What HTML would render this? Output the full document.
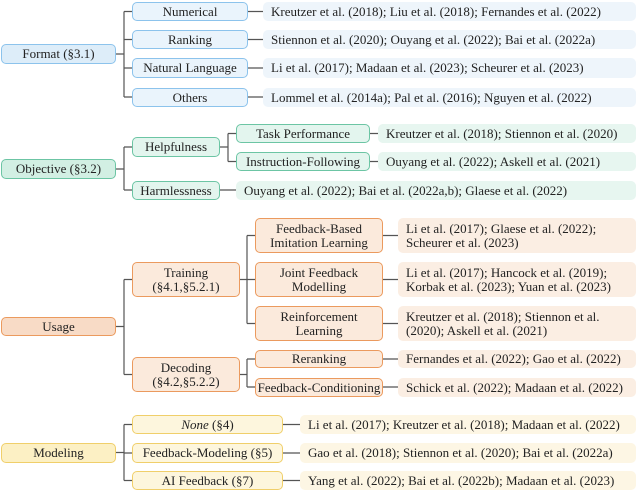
<!DOCTYPE html>
<html><head><meta charset="utf-8"><style>
body{margin:0;width:640px;height:492px;position:relative;background:#fff;font-family:"Liberation Serif","Times New Roman","DejaVu Serif",serif;font-size:13px;color:#222;overflow:hidden}
.b,.l{font-family:"Liberation Serif","Times New Roman","DejaVu Serif",serif}
.b{position:absolute;box-sizing:border-box;border-radius:5px;display:flex;align-items:center;justify-content:center;text-align:center;line-height:14px;border:1.3px solid;white-space:nowrap}
.l{position:absolute;box-sizing:border-box;border-radius:5px;display:flex;align-items:center;padding-left:8px;line-height:14px;white-space:nowrap}
.bl{background:#ddedf9;border-color:#8cc3ec}.blc{background:#eaf4fc;border-color:#8cc3ec}.bll{background:#eef5fb}
.gr{background:#d2efe3;border-color:#6cc5a4}.grc{background:#e3f5ee;border-color:#6cc5a4}.grl{background:#e7f6f0}
.or{background:#f8dbc6;border-color:#eb9a5e}.orc{background:#fbeadc;border-color:#eb9a5e}.orl{background:#fbeee3}
.ye{background:#fcf0c4;border-color:#f0cf6a}.yec{background:#fdf6dd;border-color:#f0cf6a}.yel{background:#fdf6e4}
svg{position:absolute;left:0;top:0}
</style></head><body>
<svg width="640" height="492" stroke="#555" stroke-width="1.2" fill="none">
<path d="M116 54H124M124 11.5V97M124 11.5H132M124 39.5H132M124 68H132M124 97H132"/>
<path d="M248 11.5H263M248 39.5H263M248 68H263M248 97H263"/>
<path d="M116 169H124M124 147V190M124 147H132M124 190H132M220 147H228M228 133.5V161.5M228 133.5H236M228 161.5H236M370 133.5H378M370 161.5H378M220 190H236"/>
<path d="M116 326.5H124M124 279.5V374.5M124 279.5H132M124 374.5H132M240 279.5H247M247 235.5V323.5M247 235.5H255M247 279.5H255M247 323.5H255M240 374.5H247M247 359V387M247 359H255M247 387H255"/>
<path d="M383 235.5H398M383 279.5H398M383 323.5H398M383 359H398M383 387H398"/>
<path d="M116 452.5H124M124 424.5V480.5M124 424.5H132M124 453H132M124 480.5H132M283 424.5H300M283 453H300M283 480.5H300"/>
</svg>
<div class="b bl" style="left:1px;top:44px;width:115px;height:20px">Format (§3.1)</div>
<div class="b blc" style="left:132px;top:2px;width:116px;height:19px">Numerical</div>
<div class="b blc" style="left:132px;top:30px;width:116px;height:19px">Ranking</div>
<div class="b blc" style="left:132px;top:58px;width:116px;height:20px">Natural Language</div>
<div class="b blc" style="left:132px;top:88px;width:116px;height:19px">Others</div>
<div class="l bll" style="left:263px;top:2px;width:373px;height:19px">Kreutzer et al. (2018); Liu et al. (2018); Fernandes et al. (2022)</div>
<div class="l bll" style="left:263px;top:30px;width:373px;height:19px">Stiennon et al. (2020); Ouyang et al. (2022); Bai et al. (2022a)</div>
<div class="l bll" style="left:263px;top:58px;width:373px;height:20px">Li et al. (2017); Madaan et al. (2023); Scheurer et al. (2023)</div>
<div class="l bll" style="left:263px;top:88px;width:373px;height:19px">Lommel et al. (2014a); Pal et al. (2016); Nguyen et al. (2022)</div>

<div class="b gr" style="left:1px;top:159px;width:115px;height:20px">Objective (§3.2)</div>
<div class="b grc" style="left:132px;top:137px;width:88px;height:20px">Helpfulness</div>
<div class="b grc" style="left:132px;top:181px;width:88px;height:19px">Harmlessness</div>
<div class="b grc" style="left:236px;top:124px;width:134px;height:19px">Task Performance</div>
<div class="b grc" style="left:236px;top:152px;width:134px;height:19px">Instruction-Following</div>
<div class="l grl" style="left:378px;top:124px;width:258px;height:19px">Kreutzer et al. (2018); Stiennon et al. (2020)</div>
<div class="l grl" style="left:378px;top:152px;width:258px;height:19px">Ouyang et al. (2022); Askell et al. (2021)</div>
<div class="l grl" style="left:236px;top:181px;width:400px;height:19px">Ouyang et al. (2022); Bai et al. (2022a,b); Glaese et al. (2022)</div>

<div class="b or" style="left:1px;top:317px;width:115px;height:19px">Usage</div>
<div class="b orc" style="left:132px;top:262px;width:108px;height:35px">Training<br>(§4.1,§5.2.1)</div>
<div class="b orc" style="left:132px;top:357px;width:108px;height:35px">Decoding<br>(§4.2,§5.2.2)</div>
<div class="b orc" style="left:255px;top:218px;width:128px;height:35px">Feedback-Based<br>Imitation Learning</div>
<div class="b orc" style="left:255px;top:262px;width:128px;height:35px">Joint Feedback<br>Modelling</div>
<div class="b orc" style="left:255px;top:306px;width:128px;height:35px">Reinforcement<br>Learning</div>
<div class="b orc" style="left:255px;top:350px;width:128px;height:18px">Reranking</div>
<div class="b orc" style="left:255px;top:378px;width:128px;height:19px">Feedback-Conditioning</div>
<div class="l orl" style="left:398px;top:218px;width:238px;height:35px">Li et al. (2017); Glaese et al. (2022);<br>Scheurer et al. (2023)</div>
<div class="l orl" style="left:398px;top:262px;width:238px;height:35px">Li et al. (2017); Hancock et al. (2019);<br>Korbak et al. (2023); Yuan et al. (2023)</div>
<div class="l orl" style="left:398px;top:306px;width:238px;height:35px">Kreutzer et al. (2018); Stiennon et al.<br>(2020); Askell et al. (2021)</div>
<div class="l orl" style="left:398px;top:350px;width:238px;height:18px">Fernandes et al. (2022); Gao et al. (2022)</div>
<div class="l orl" style="left:398px;top:378px;width:238px;height:19px">Schick et al. (2022); Madaan et al. (2022)</div>

<div class="b ye" style="left:1px;top:443px;width:115px;height:20px">Modeling</div>
<div class="b yec" style="left:132px;top:415px;width:151px;height:19px"><span><i>None</i> (§4)</span></div>
<div class="b yec" style="left:132px;top:443px;width:151px;height:20px">Feedback-Modeling (§5)</div>
<div class="b yec" style="left:132px;top:471px;width:151px;height:19px">AI Feedback (§7)</div>
<div class="l yel" style="left:300px;top:415px;width:336px;height:19px">Li et al. (2017); Kreutzer et al. (2018); Madaan et al. (2022)</div>
<div class="l yel" style="left:300px;top:443px;width:336px;height:20px">Gao et al. (2018); Stiennon et al. (2020); Bai et al. (2022a)</div>
<div class="l yel" style="left:300px;top:471px;width:336px;height:19px">Yang et al. (2022); Bai et al. (2022b); Madaan et al. (2023)</div>
</body></html>
